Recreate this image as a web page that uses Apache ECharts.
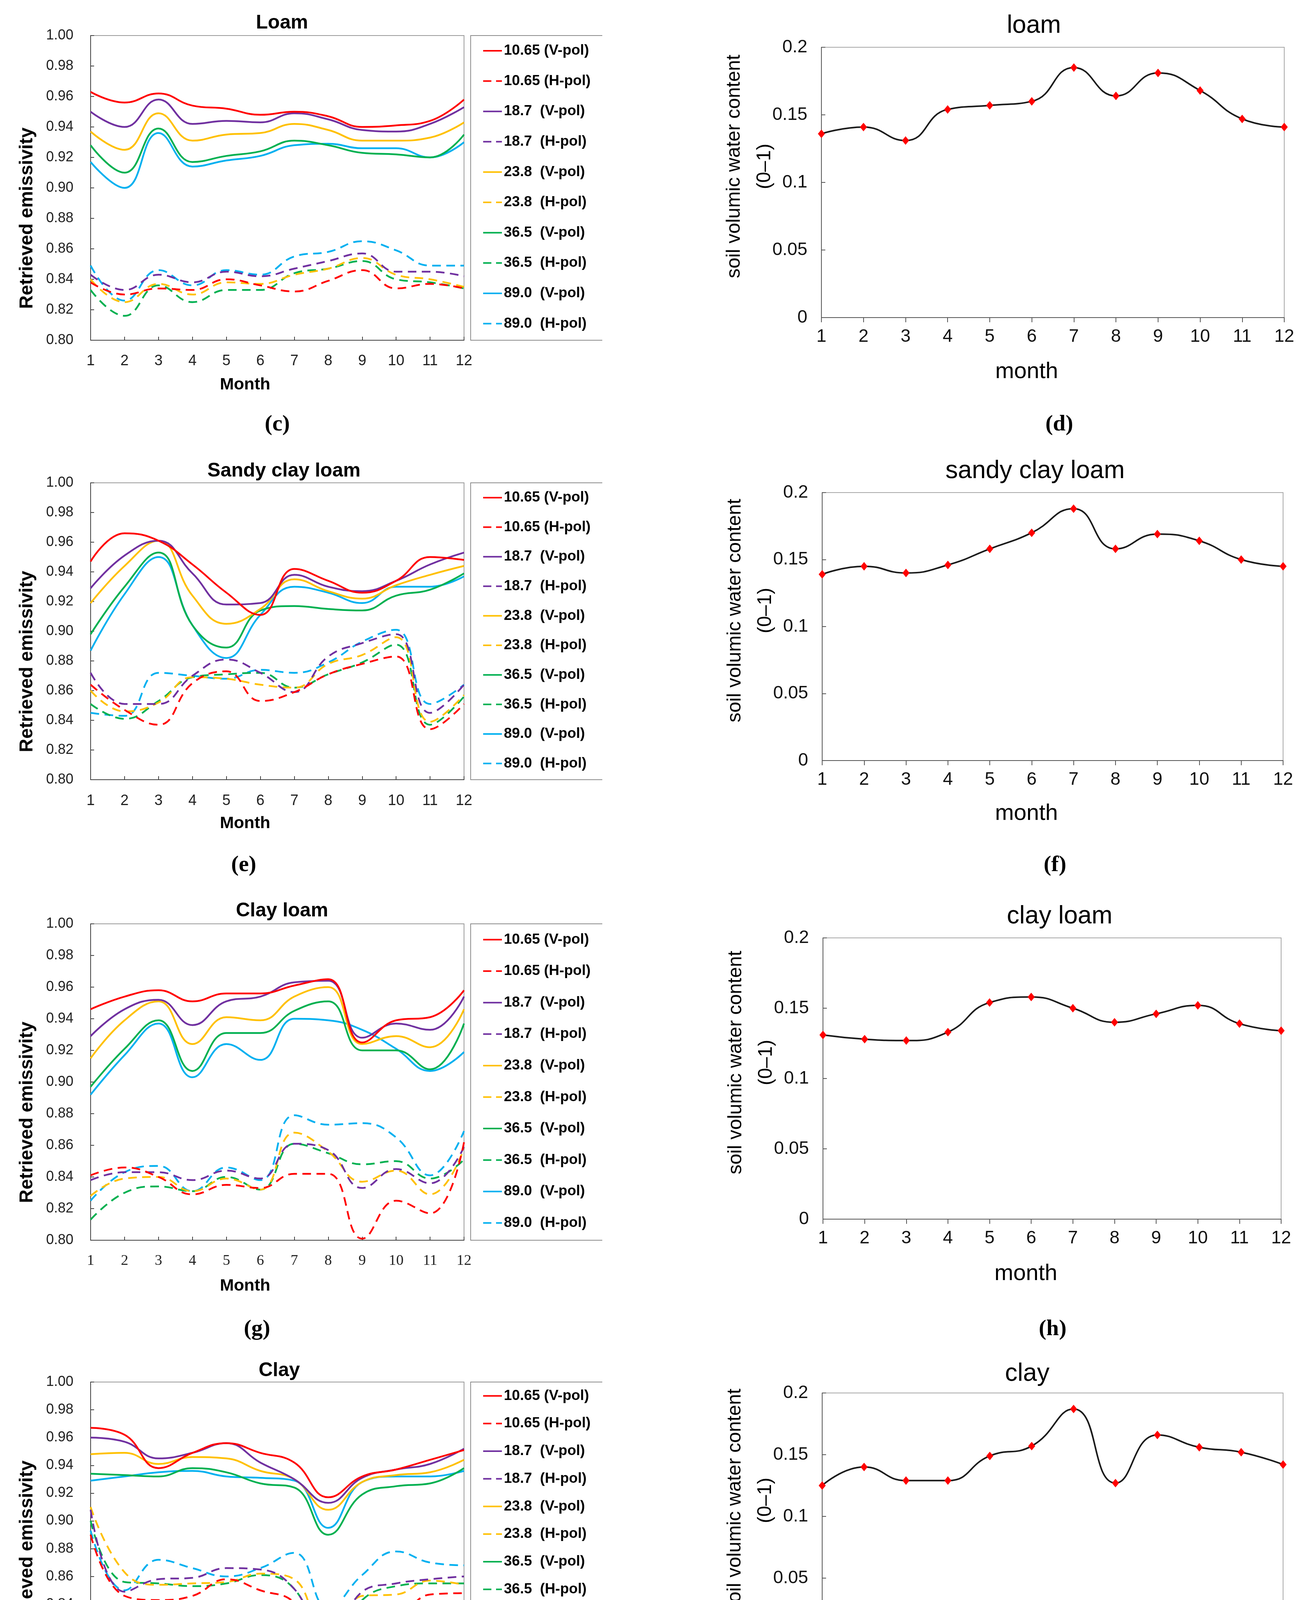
<!DOCTYPE html>
<html><head><meta charset="utf-8">
<script src="https://cdn.jsdelivr.net/npm/echarts@6/dist/echarts.min.js"></script>
<style>html,body{margin:0;padding:0;background:#fff}#chart{width:3336px;height:4513px}</style>
</head><body><div id="chart"></div>
<script>
const months = [1,2,3,4,5,6,7,8,9,10,11,12];
const seriesNames = ['10.65 (V-pol)','10.65 (H-pol)','18.7  (V-pol)','18.7  (H-pol)','23.8  (V-pol)','23.8  (H-pol)','36.5  (V-pol)','36.5  (H-pol)','89.0  (V-pol)','89.0  (H-pol)'];
const seriesColors = ['#ff0000','#ff0000','#7030a0','#7030a0','#ffc000','#ffc000','#00b050','#00b050','#00b0f0','#00b0f0'];

// (c) Loam
const loam_1065V=[0.963,0.956,0.962,0.954,0.952,0.948,0.950,0.947,0.940,0.941,0.944,0.958];
const loam_1065H=[0.838,0.830,0.834,0.833,0.840,0.836,0.832,0.839,0.846,0.834,0.837,0.834];
const loam_187V=[0.950,0.940,0.958,0.942,0.944,0.943,0.949,0.945,0.938,0.937,0.942,0.953];
const loam_187H=[0.843,0.833,0.843,0.838,0.845,0.842,0.847,0.852,0.857,0.845,0.845,0.842];
const loam_238V=[0.937,0.925,0.949,0.931,0.935,0.936,0.942,0.938,0.931,0.931,0.933,0.943];
const loam_238H=[0.840,0.825,0.837,0.830,0.838,0.837,0.843,0.847,0.854,0.843,0.840,0.835];
const loam_365V=[0.928,0.910,0.939,0.917,0.921,0.924,0.931,0.928,0.923,0.922,0.920,0.935];
const loam_365H=[0.833,0.816,0.836,0.825,0.833,0.833,0.844,0.847,0.852,0.840,0.838,0.834];
const loam_890V=[0.917,0.900,0.936,0.914,0.918,0.921,0.928,0.929,0.926,0.926,0.920,0.930];
const loam_890H=[0.849,0.826,0.846,0.836,0.846,0.843,0.855,0.858,0.865,0.859,0.849,0.849];
// (e) Sandy clay loam
const scl_1065V=[0.947,0.966,0.961,0.945,0.926,0.911,0.942,0.934,0.926,0.934,0.950,0.948];
const scl_1065H=[0.864,0.847,0.837,0.865,0.873,0.853,0.859,0.871,0.878,0.883,0.834,0.851];
const scl_187V=[0.929,0.951,0.961,0.939,0.918,0.919,0.938,0.930,0.927,0.934,0.945,0.953];
const scl_187H=[0.872,0.851,0.851,0.870,0.881,0.872,0.859,0.883,0.892,0.898,0.845,0.864];
const scl_238V=[0.919,0.944,0.961,0.924,0.905,0.915,0.935,0.927,0.922,0.931,0.938,0.944];
const scl_238H=[0.860,0.846,0.852,0.869,0.868,0.864,0.862,0.878,0.884,0.896,0.839,0.857];
const scl_365V=[0.898,0.930,0.953,0.904,0.889,0.914,0.917,0.915,0.914,0.924,0.928,0.939];
const scl_365H=[0.851,0.841,0.853,0.869,0.871,0.872,0.862,0.871,0.879,0.891,0.837,0.856];
const scl_890V=[0.887,0.925,0.950,0.904,0.882,0.911,0.930,0.926,0.919,0.930,0.930,0.937];
const scl_890H=[0.845,0.843,0.872,0.870,0.868,0.874,0.872,0.879,0.893,0.901,0.851,0.864];
// (g) Clay loam
const cl_1065V=[0.946,0.954,0.958,0.951,0.956,0.956,0.961,0.965,0.925,0.939,0.941,0.958];
const cl_1065H=[0.841,0.846,0.840,0.829,0.835,0.833,0.842,0.842,0.801,0.825,0.817,0.862];
const cl_187V=[0.929,0.946,0.952,0.936,0.951,0.954,0.963,0.964,0.928,0.937,0.933,0.954];
const cl_187H=[0.838,0.843,0.843,0.838,0.844,0.839,0.861,0.857,0.833,0.845,0.836,0.859];
const cl_238V=[0.915,0.939,0.951,0.924,0.941,0.939,0.954,0.960,0.924,0.929,0.922,0.946];
const cl_238H=[0.828,0.839,0.840,0.831,0.839,0.832,0.868,0.856,0.837,0.844,0.829,0.858];
const cl_365V=[0.897,0.921,0.939,0.907,0.931,0.931,0.945,0.951,0.920,0.920,0.908,0.937];
const cl_365H=[0.813,0.830,0.834,0.831,0.840,0.832,0.861,0.855,0.848,0.850,0.839,0.851];
const cl_890V=[0.892,0.917,0.937,0.903,0.924,0.914,0.940,0.939,0.933,0.921,0.907,0.919];
const cl_890H=[0.825,0.843,0.847,0.831,0.846,0.838,0.879,0.873,0.874,0.865,0.841,0.869];
// (i) Clay
const c_1065V=[0.967,0.962,0.938,0.949,0.956,0.949,0.942,0.917,0.932,0.937,0.944,0.951];
const c_1065H=[0.890,0.846,0.843,0.846,0.858,0.850,0.841,0.801,0.835,0.833,0.847,0.848];
const c_187V=[0.960,0.957,0.945,0.949,0.956,0.942,0.930,0.913,0.931,0.937,0.941,0.952];
const c_187H=[0.908,0.849,0.858,0.859,0.866,0.865,0.851,0.811,0.849,0.855,0.858,0.860];
const c_238V=[0.948,0.949,0.941,0.946,0.945,0.936,0.930,0.908,0.928,0.933,0.935,0.944];
const c_238H=[0.910,0.863,0.854,0.855,0.856,0.862,0.858,0.806,0.846,0.847,0.857,0.854];
const c_365V=[0.934,0.933,0.932,0.938,0.935,0.927,0.924,0.890,0.919,0.925,0.927,0.938];
const c_365H=[0.900,0.856,0.855,0.853,0.855,0.861,0.851,0.808,0.843,0.853,0.855,0.855];
const c_890V=[0.929,0.932,0.935,0.936,0.932,0.931,0.929,0.895,0.928,0.932,0.932,0.936];
const c_890H=[0.893,0.850,0.872,0.866,0.860,0.866,0.877,0.837,0.861,0.878,0.870,0.868];
// soil volumic water content (d, f, h, j)
const swc_loam=[0.136,0.141,0.131,0.154,0.157,0.160,0.185,0.164,0.181,0.168,0.147,0.141];
const swc_scl=[0.139,0.145,0.140,0.146,0.158,0.170,0.188,0.158,0.169,0.164,0.150,0.145];
const swc_cl=[0.131,0.128,0.127,0.133,0.154,0.158,0.150,0.140,0.146,0.152,0.139,0.134];
const swc_clay=[0.125,0.140,0.129,0.129,0.149,0.157,0.187,0.127,0.166,0.156,0.152,0.142];

const leftTitles=['Loam','Sandy clay loam','Clay loam','Clay'];
const rightTitles=['loam','sandy clay loam','clay loam','clay'];
const panelLetters=['c','d','e','f','g','h','i','j'];

const leftData=[
 [loam_1065V,loam_1065H,loam_187V,loam_187H,loam_238V,loam_238H,loam_365V,loam_365H,loam_890V,loam_890H],
 [scl_1065V,scl_1065H,scl_187V,scl_187H,scl_238V,scl_238H,scl_365V,scl_365H,scl_890V,scl_890H],
 [cl_1065V,cl_1065H,cl_187V,cl_187H,cl_238V,cl_238H,cl_365V,cl_365H,cl_890V,cl_890H],
 [c_1065V,c_1065H,c_187V,c_187H,c_238V,c_238H,c_365V,c_365H,c_890V,c_890H]
];
const rightData=[swc_loam,swc_scl,swc_cl,swc_clay];

// layout (pixels)
const leftLayout=[
 {top:91, bot:871, tx:722, ty:59, gap:93, lblMargin:35, lx:710, ly:1088, xFont:'Liberation Sans'},
 {top:1236, bot:1996, tx:727, ty:1206, gap:91, lblMargin:36, lx:624, ly:2216, xFont:'Liberation Sans'},
 {top:2365, bot:3175, tx:722, ty:2332, gap:96, lblMargin:34, lx:658, ly:3404, xFont:'Liberation Serif'},
 {top:3538, bot:4249, tx:715, ty:3509, gap:84, lblMargin:32, lx:667, ly:4449, xFont:'Liberation Sans'}
];
const rightLayout=[
 {L:2103, R:3288, top:121, bot:813, tx:2647, ty:66, gap:110, lx:2712, ly:1088},
 {L:2105, R:3285, top:1261, bot:1947, tx:2650, ty:1206, gap:107, lx:2701, ly:2216},
 {L:2107, R:3280, top:2401, bot:3121, tx:2713, ty:2346, gap:111, lx:2695, ly:3404},
 {L:2105, R:3285, top:3566, bot:4198, tx:2630, ty:3517, gap:99, lx:2698, ly:4449}
];
const LL=232, LR=1188, LEG_X=1205, LEG_R=1542;
const ICON_SOLID='path://M0,0H48V4H0Z';
const ICON_DASH='path://M0,0H21V4H0Z M33,0H48V4H33Z';

const grid=[], xAxis=[], yAxis=[], series=[], title=[], legend=[], graphic=[];
const SANS="'Liberation Sans', Arial, sans-serif";

leftLayout.forEach((p,i)=>{
  const h=p.bot-p.top;
  const gi=grid.length;
  grid.push({left:LL, top:p.top, width:LR-LL, height:h, show:true, borderColor:'#9a9a9a', borderWidth:2, containLabel:false});
  xAxis.push({type:'value', gridIndex:gi, min:1, max:12, interval:1,
    name:'Month', nameLocation:'middle', nameGap:p.gap, nameMoveOverlap:false,
    nameTextStyle:{fontFamily:SANS, fontSize:43, fontWeight:'bold', color:'#000', padding:[0,165,0,0]},
    axisLine:{lineStyle:{color:'#404040', width:2}},
    axisTick:{inside:true, length:9, lineStyle:{color:'#404040', width:2}},
    axisLabel:{margin:p.lblMargin, fontFamily:p.xFont+", sans-serif", fontSize:38, color:'#222'},
    splitLine:{show:false}});
  yAxis.push({type:'value', gridIndex:gi, min:0.80, max:1.00, interval:0.02,
    name:'Retrieved emissivity', nameLocation:'middle', nameGap:138, nameMoveOverlap:false,
    nameTextStyle:{fontFamily:SANS, fontSize:48, fontWeight:'bold', color:'#000', padding:[0,155,0,0]},
    axisLine:{lineStyle:{color:'#404040', width:2}},
    axisTick:{inside:true, length:9, lineStyle:{color:'#404040', width:2}},
    axisLabel:{margin:44, fontFamily:SANS, fontSize:36, color:'#222', formatter:v=>v.toFixed(2)},
    splitLine:{show:false}});
  leftData[i].forEach((arr,k)=>{
    series.push({type:'line', name:seriesNames[k], xAxisIndex:gi, yAxisIndex:gi,
      data:months.map((m,j)=>[m,arr[j]]), smooth:0.45, symbol:'none',
      lineStyle:{color:seriesColors[k], width:4.5, type:(k%2===1)?[22,14]:'solid'},
      itemStyle:{color:seriesColors[k]}, z:2+(9-k)});
  });
  title.push({text:leftTitles[i], left:p.tx, top:p.ty-25, textAlign:'center', padding:0,
    textStyle:{fontFamily:SANS, fontSize:50, fontWeight:'bold', color:'#000'}});
  title.push({text:'{n|(}{b|'+panelLetters[i*2]+'}{n|)}', left:p.lx, top:p.ly-30, textAlign:'center', padding:0,
    textStyle:{rich:{n:{fontFamily:"'Liberation Serif', serif", fontSize:58, color:'#000'}, b:{fontFamily:"'Liberation Serif', serif", fontSize:58, fontWeight:'bold', color:'#000'}}}});
  legend.push({orient:'vertical', left:1237, top:p.top+0.05*h-20, itemWidth:48, itemHeight:4,
    itemGap:0.0995*h-40, selectedMode:false, padding:0,
    data:seriesNames.map((n,k)=>({name:n, icon:(k%2===1)?ICON_DASH:ICON_SOLID, itemStyle:{color:seriesColors[k]}})),
    textStyle:{fontFamily:SANS, fontSize:37, fontWeight:'bold', color:'#000', lineHeight:40}});
  graphic.push({type:'polyline', silent:true, shape:{points:[[LEG_R,p.top],[LEG_X,p.top],[LEG_X,p.bot],[LEG_R,p.bot]]},
    style:{stroke:'#8c8c8c', lineWidth:2, fill:null}});
});

rightLayout.forEach((p,i)=>{
  const gi=grid.length;
  grid.push({left:p.L, top:p.top, width:p.R-p.L, height:p.bot-p.top, show:true, borderColor:'#a8a8a8', borderWidth:2, containLabel:false});
  xAxis.push({type:'value', gridIndex:gi, min:1, max:12, interval:1,
    name:'month', nameLocation:'middle', nameGap:p.gap, nameMoveOverlap:false,
    nameTextStyle:{fontFamily:SANS, fontSize:58, color:'#000', padding:[0,134,0,0]},
    axisLine:{lineStyle:{color:'#555', width:2}},
    axisTick:{inside:false, length:12, lineStyle:{color:'#555', width:2}},
    axisLabel:{margin:26, fontFamily:SANS, fontSize:46, color:'#111'},
    splitLine:{show:false}});
  yAxis.push({type:'value', gridIndex:gi, min:0, max:0.2, interval:0.05,
    name:'soil volumic water content\n(0–1)', nameLocation:'middle', nameGap:106, nameMoveOverlap:false,
    nameTextStyle:{fontFamily:SANS, fontSize:50, color:'#000', lineHeight:78, align:'center', padding:[0,0,0,82]},
    axisLine:{lineStyle:{color:'#555', width:2}},
    axisTick:{inside:true, length:10, lineStyle:{color:'#555', width:2}},
    axisLabel:{margin:36, fontFamily:SANS, fontSize:46, color:'#111'},
    splitLine:{show:false}});
  series.push({type:'line', name:rightTitles[i], xAxisIndex:gi, yAxisIndex:gi,
    data:months.map((m,j)=>[m,rightData[i][j]]), smooth:0.5,
    symbol:'diamond', symbolSize:[18,22],
    lineStyle:{color:'#1a1a1a', width:4}, itemStyle:{color:'#ff0000'}});
  title.push({text:rightTitles[i], left:p.tx, top:p.ty-32, textAlign:'center', padding:0,
    textStyle:{fontFamily:SANS, fontSize:64, fontWeight:'normal', color:'#000'}});
  title.push({text:'{n|(}{b|'+panelLetters[i*2+1]+'}{n|)}', left:p.lx, top:p.ly-30, textAlign:'center', padding:0,
    textStyle:{rich:{n:{fontFamily:"'Liberation Serif', serif", fontSize:58, color:'#000'}, b:{fontFamily:"'Liberation Serif', serif", fontSize:58, fontWeight:'bold', color:'#000'}}}});
});

const chart=echarts.init(document.getElementById('chart'), null, {renderer:'canvas'});
chart.setOption({backgroundColor:'#ffffff', animation:false, title, legend, grid, xAxis, yAxis, series, graphic});
</script></body></html>
